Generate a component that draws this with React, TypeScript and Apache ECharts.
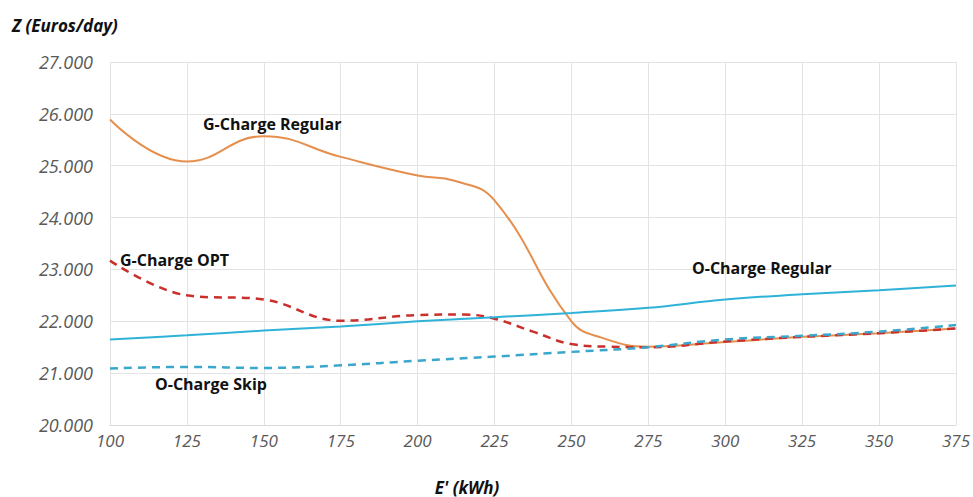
import React, { useEffect, useRef } from "react";
import * as echarts from "echarts";

const xTicks = [100, 125, 150, 175, 200, 225, 250, 275, 300, 325, 350, 375];

const gRegularX = [100, 125, 150, 175, 200, 212, 225, 250, 260, 275, 300, 325, 350, 375];
const gRegularY = [25.89, 25.08, 25.57, 25.17, 24.81, 24.71, 24.33, 22.0, 21.68, 21.51, 21.6, 21.7, 21.77, 21.86];

const gOptX = [100, 125, 150, 175, 200, 215, 225, 237.5, 250, 262.5, 275, 300, 325, 350, 375];
const gOptY = [23.17, 22.5, 22.42, 22.01, 22.12, 22.13, 22.05, 21.8, 21.56, 21.51, 21.5, 21.61, 21.7, 21.77, 21.86];

const oRegularX = [100, 125, 150, 175, 200, 225, 250, 275, 300, 325, 350, 375];
const oRegularY = [21.65, 21.73, 21.82, 21.9, 22.0, 22.08, 22.16, 22.26, 22.42, 22.52, 22.6, 22.69];

const oSkipX = [100, 125, 150, 175, 200, 225, 250, 275, 300, 325, 350, 375];
const oSkipY = [21.09, 21.12, 21.1, 21.15, 21.24, 21.32, 21.41, 21.5, 21.65, 21.72, 21.8, 21.93];

const zip = (xs: number[], ys: number[]) => xs.map((x, i) => [x, ys[i]]);

const FONT = "'Open Sans', 'Noto Sans', sans-serif";

export default function App() {
  const ref = useRef<HTMLDivElement>(null);
  useEffect(() => {
    if (!ref.current) return;
    const chart = echarts.init(ref.current, undefined, { renderer: "svg" });
    const labelStyle = {
      fontFamily: FONT,
      fontWeight: "bold" as const,
      fontSize: 16,
      fill: "#111",
      verticalAlign: "middle" as const,
    };
    chart.setOption({
      animation: false,
      backgroundColor: "#fff",
      grid: { left: 110, right: 16, top: 62, bottom: 72, containLabel: false },
      xAxis: {
        type: "value",
        min: 100,
        max: 375,
        interval: 25,
        axisLine: { show: true, lineStyle: { color: "#d9d9d9", width: 1 } },
        axisTick: { show: false },
        axisLabel: {
          color: "#595959",
          fontFamily: FONT,
          fontStyle: "italic",
          fontSize: 17,
          margin: 7,
          formatter: (v: number) => (xTicks.includes(v) ? String(v) : ""),
        },
        splitLine: { show: true, lineStyle: { color: "#e3e3e3", width: 1 } },
      },
      yAxis: {
        type: "value",
        min: 20,
        max: 27,
        interval: 1,
        axisLine: { show: false },
        axisTick: { show: false },
        axisLabel: {
          color: "#595959",
          fontFamily: FONT,
          fontStyle: "italic",
          fontSize: 18,
          margin: 17,
          formatter: (v: number) => v.toFixed(3),
        },
        splitLine: { show: true, lineStyle: { color: "#e3e3e3", width: 1 } },
      },
      series: [
        {
          name: "G-Charge Regular",
          type: "line",
          data: zip(gRegularX, gRegularY),
          smooth: 0.45,
          showSymbol: false,
          lineStyle: { color: "#e58f4e", width: 2 },
          z: 2,
        },
        {
          name: "G-Charge OPT",
          type: "line",
          data: zip(gOptX, gOptY),
          smooth: 0.4,
          showSymbol: false,
          lineStyle: { color: "#c9302c", width: 2.5, type: [8, 6] },
          z: 3,
        },
        {
          name: "O-Charge Regular",
          type: "line",
          data: zip(oRegularX, oRegularY),
          smooth: 0.4,
          showSymbol: false,
          lineStyle: { color: "#2fb2d8", width: 2 },
          z: 4,
        },
        {
          name: "O-Charge Skip",
          type: "line",
          data: zip(oSkipX, oSkipY),
          smooth: 0.4,
          showSymbol: false,
          lineStyle: { color: "#3aa7cc", width: 2.5, type: [8, 6] },
          z: 5,
        },
      ],
      graphic: [
        { type: "text", x: 12, y: 25, z: 100, style: { text: "Z (Euros/day)", fontFamily: FONT, fontWeight: "bold", fontStyle: "italic", fontSize: 17, fill: "#111", verticalAlign: "middle" } },
        { type: "text", x: 467, y: 487, z: 100, style: { text: "E' (kWh)", fontFamily: FONT, fontWeight: "bold", fontStyle: "italic", fontSize: 17, fill: "#111", align: "center", verticalAlign: "middle" } },
        { type: "text", x: 203, y: 124, z: 100, style: { text: "G-Charge Regular", ...labelStyle } },
        { type: "text", x: 120, y: 260, z: 100, style: { text: "G-Charge OPT", ...labelStyle } },
        { type: "text", x: 692, y: 268, z: 100, style: { text: "O-Charge Regular", ...labelStyle } },
        { type: "text", x: 155, y: 384, z: 100, style: { text: "O-Charge Skip", ...labelStyle } },
      ],
    });
    return () => chart.dispose();
  }, []);
  return <div ref={ref} style={{ width: 973, height: 497, position: "absolute", left: 0, top: 0 }} />;
}
